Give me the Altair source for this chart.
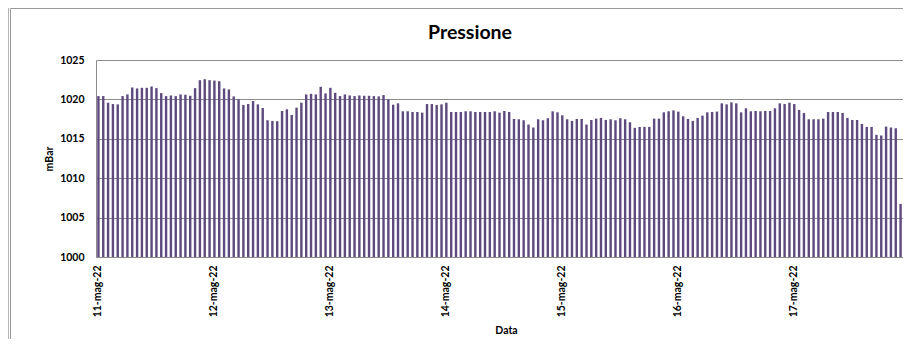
import altair as alt
import pandas as pd

# ---- data ----
giorni = ["11-mag-22", "12-mag-22", "13-mag-22", "14-mag-22",
          "15-mag-22", "16-mag-22", "17-mag-22"]

pressione = [
    # 11-mag-22
    1020.42, 1020.42, 1019.58, 1019.41, 1019.37, 1020.42, 1020.63, 1021.51,
    1021.39, 1021.47, 1021.47, 1021.64, 1021.43, 1020.80, 1020.42, 1020.50,
    1020.42, 1020.63, 1020.59, 1020.46, 1021.43, 1022.44, 1022.56, 1022.44,
    # 12-mag-22
    1022.39, 1022.31, 1021.39, 1021.26, 1020.38, 1020.00, 1019.29, 1019.41,
    1019.79, 1019.37, 1018.91, 1017.35, 1017.27, 1017.23, 1018.53, 1018.74,
    1018.03, 1018.95, 1019.58, 1020.63, 1020.71, 1020.63, 1021.60, 1020.76,
    # 13-mag-22
    1021.47, 1020.84, 1020.42, 1020.63, 1020.50, 1020.42, 1020.50, 1020.46,
    1020.46, 1020.42, 1020.38, 1020.55, 1020.00, 1019.33, 1019.50, 1018.49,
    1018.49, 1018.40, 1018.40, 1018.32, 1019.41, 1019.41, 1019.29, 1019.37,
    # 14-mag-22
    1019.58, 1018.40, 1018.40, 1018.40, 1018.49, 1018.49, 1018.40, 1018.40,
    1018.40, 1018.40, 1018.49, 1018.32, 1018.53, 1018.40, 1017.52, 1017.48,
    1017.35, 1016.81, 1016.43, 1017.48, 1017.35, 1017.61, 1018.49, 1018.36,
    # 15-mag-22
    1017.98, 1017.48, 1017.27, 1017.52, 1017.52, 1016.81, 1017.39, 1017.56,
    1017.65, 1017.39, 1017.48, 1017.35, 1017.61, 1017.48, 1017.10, 1016.39,
    1016.51, 1016.51, 1016.51, 1017.56, 1017.56, 1018.36, 1018.49, 1018.61,
    # 16-mag-22
    1018.45, 1017.86, 1017.52, 1017.27, 1017.65, 1017.94, 1018.36, 1018.40,
    1018.45, 1019.50, 1019.37, 1019.62, 1019.50, 1018.36, 1018.87, 1018.49,
    1018.53, 1018.49, 1018.53, 1018.53, 1018.87, 1019.50, 1019.41, 1019.58,
    # 17-mag-22
    1019.41, 1018.66, 1018.28, 1017.48, 1017.48, 1017.48, 1017.56, 1018.40,
    1018.40, 1018.40, 1018.28, 1017.65, 1017.39, 1017.39, 1016.89, 1016.51,
    1016.51, 1015.50, 1015.42, 1016.55, 1016.43, 1016.34, 1006.74,
]

y_ticks = [1000, 1005, 1010, 1015, 1020, 1025]
titolo = "Pressione"
titolo_y = "mBar"
titolo_x = "Data"

df = pd.DataFrame({"ora": list(range(len(pressione))), "mBar": pressione})
deco = pd.DataFrame({"k": [0]})

W, H = 807, 197
PAD_L, PAD_T, PAD_R, PAD_B = 88, 52, 0, 82
FONT = "Lato"
GRID = "#8C8C8C"
BAR = "#5E4A7E"

label_expr = "[" + ",".join(f"'{g}'" for g in giorni) + "][floor(datum.value / 24)]"
x_vals = [i * 24 for i in range(len(giorni))]

bars = alt.Chart(df).mark_bar(color=BAR).encode(
    x=alt.X(
        "ora:O",
        scale=alt.Scale(paddingInner=0.5, paddingOuter=0.25),
        axis=alt.Axis(
            values=x_vals,
            labelExpr=label_expr,
            labelAngle=270,
            labelAlign="right",
            labelBaseline="middle",
            labelPadding=8,
            labelFont=FONT,
            labelFontSize=10.5,
            labelFontWeight="bold",
            labelColor="#000000",
            ticks=False,
            domainColor=GRID,
            grid=False,
            title=titolo_x,
            titleFont=FONT,
            titleFontSize=10.5,
            titleFontWeight="bold",
            titleColor="#000000",
            titleX=410,
            titleY=73,
            titleAlign="center",
            titleBaseline="middle",
        ),
    ),
    y=alt.Y(
        "mBar:Q",
        scale=alt.Scale(domain=[1000, 1025], zero=False, nice=False),
        axis=alt.Axis(
            values=y_ticks,
            format="d",
            labelFont=FONT,
            labelFontSize=10.5,
            labelFontWeight="bold",
            labelColor="#000000",
            labelPadding=12,
            ticks=False,
            domainColor=GRID,
            gridColor=GRID,
            gridOpacity=1,
            title=titolo_y,
            titleFont=FONT,
            titleFontSize=10.5,
            titleFontWeight="bold",
            titleColor="#000000",
            titleAngle=270,
            titleX=-47,
            titleY=98.5,
            titleAlign="center",
            titleBaseline="middle",
        ),
    ),
    y2=alt.datum(1000),
)

title = alt.Chart(deco).mark_text(
    text=titolo, font=FONT, fontSize=19.5, fontWeight="bold", color="#000000",
    align="center", baseline="middle",
).encode(x=alt.value(374), y=alt.value(-27))

frame_outer = alt.Chart(deco).mark_rule(color="#B4B4B4", strokeWidth=1).encode(
    x=alt.value(-87.5), y=alt.value(-52), y2=alt.value(H + PAD_B)
)
frame_inner = alt.Chart(deco).mark_rule(color="#9A9A9A", strokeWidth=1).encode(
    x=alt.value(-85.5), y=alt.value(-51.5), y2=alt.value(H + PAD_B)
)
frame_top = alt.Chart(deco).mark_rule(color="#9A9A9A", strokeWidth=1).encode(
    x=alt.value(-85.5), x2=alt.value(W + PAD_R), y=alt.value(-51.5)
)

chart = alt.layer(frame_outer, frame_inner, frame_top, bars, title).properties(
    width=W,
    height=H,
    autosize=alt.AutoSizeParams(type="none"),
    padding={"left": PAD_L, "top": PAD_T, "right": PAD_R, "bottom": PAD_B},
    background="#FFFFFF",
).configure_view(stroke=None)

chart.save("out.html", embed_options={"renderer": "svg", "actions": False})
